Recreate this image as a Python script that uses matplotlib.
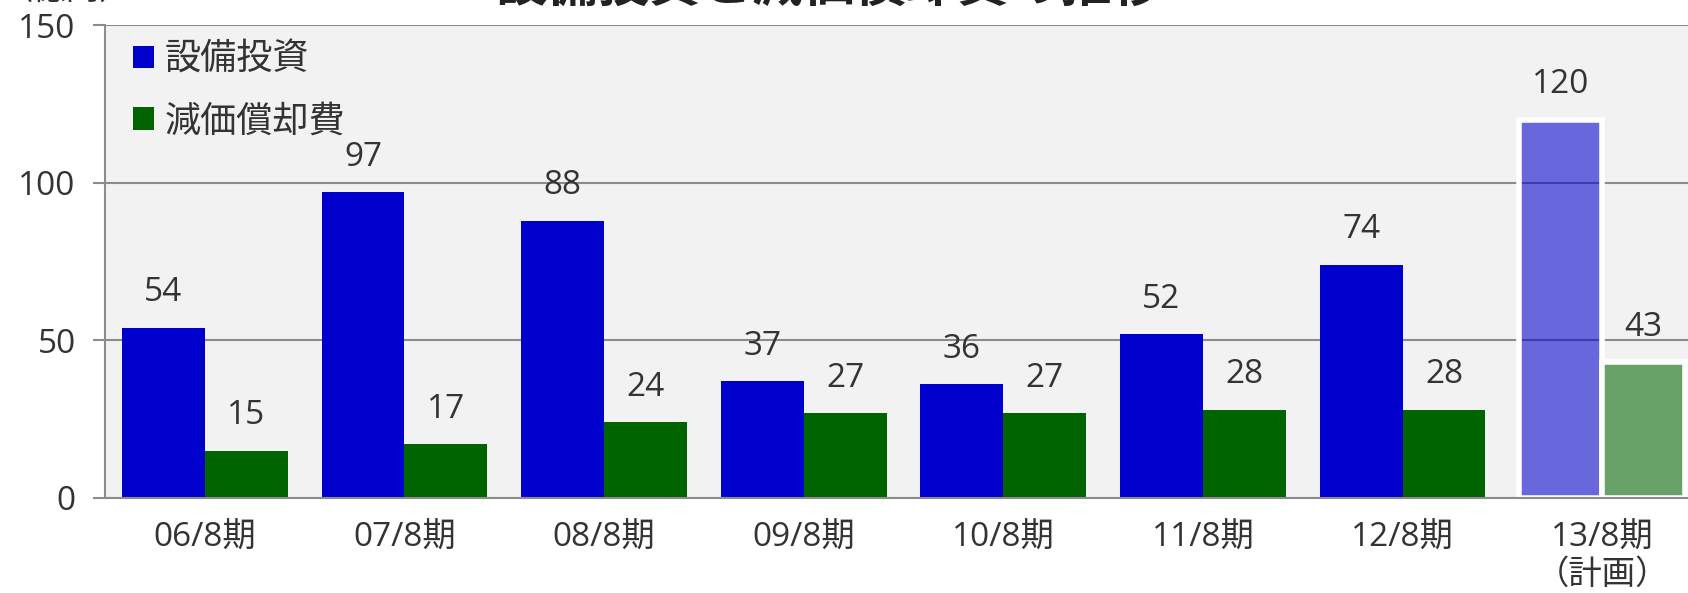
import numpy as np
import matplotlib
matplotlib.use('Agg')
import matplotlib.pyplot as plt

plt.rcParams['font.family'] = ['Open Sans', 'Noto Sans CJK JP', 'DejaVu Sans']

periods = ['06/8期', '07/8期', '08/8期', '09/8期', '10/8期', '11/8期', '12/8期', '13/8期\n（計画）']
capex = [54, 97, 88, 37, 36, 52, 74, 120]
depreciation = [15, 17, 24, 27, 27, 28, 28, 43]
series_names = ['設備投資', '減価償却費']

blue = '#0000CC'
green = '#006400'
text_col = '#333333'
grid_col = '#8C8C8C'

fig = plt.figure(figsize=(16.88, 5.93), dpi=100)
ax = fig.add_axes([105 / 1688, 1 - 498 / 593, 1 - 105 / 1688, (498 - 25) / 593])
ax.set_facecolor('#F2F2F2')
ax.set_axisbelow(True)

x = np.arange(len(periods))
w = 0.415
n_actual = len(periods) - 1

# actual results
ax.bar(x[:n_actual] - w / 2, capex[:n_actual], w, color=blue, label=series_names[0], zorder=2)
ax.bar(x[:n_actual] + w / 2, depreciation[:n_actual], w, color=green, label=series_names[1], zorder=2)
# plan (semi transparent with white border)
ax.bar(x[n_actual:] - w / 2, capex[n_actual:], w, facecolor=(0, 0, 0.8, 0.57),
       edgecolor='white', linewidth=4, zorder=2)
ax.bar(x[n_actual:] + w / 2, depreciation[n_actual:], w, facecolor=(0, 0.392, 0, 0.57),
       edgecolor='white', linewidth=4, zorder=2)

for i in x:
    ax.annotate(str(capex[i]), (i - w / 2, capex[i]), xytext=(0, 25), textcoords='offset points',
                ha='center', va='center', fontsize=24, color=text_col)
    ax.annotate(str(depreciation[i]), (i + w / 2, depreciation[i]), xytext=(0, 25),
                textcoords='offset points', ha='center', va='center', fontsize=24, color=text_col)

ax.set_xlim(-0.5, 7.43)
ax.set_ylim(0, 150)
ax.set_yticks([0, 50, 100, 150])
ax.yaxis.grid(True, color=grid_col, linewidth=1.5)
ax.set_xticks(x)
ax.set_xticklabels(periods, fontsize=24, color=text_col, linespacing=1.15)
ax.tick_params(axis='x', length=0, pad=17)
ax.tick_params(axis='y', length=9, width=1.5, color=grid_col, labelsize=24, labelcolor=text_col, pad=12)

for s in ['top', 'right']:
    ax.spines[s].set_visible(False)
for s in ['left', 'bottom']:
    ax.spines[s].set_color(grid_col)
    ax.spines[s].set_linewidth(1.5)

leg = ax.legend(loc='upper left', bbox_to_anchor=(0.018, 0.962), frameon=False, fontsize=26,
                handlelength=0.58, handleheight=0.58, handletextpad=0.28, labelspacing=0.7,
                borderpad=0, borderaxespad=0)
for t in leg.get_texts():
    t.set_color(text_col)

fig.text(829 / 1688, 1 + 14 / 593, '設備投資と減価償却費の推移', ha='center', va='center',
         fontsize=37, fontweight='bold', color='#222222', family=['Noto Sans CJK JP'])
fig.text(0.0, 1 + 10 / 593, '（億円）', ha='left', va='center', fontsize=24, color=text_col)

fig.savefig('out.png', dpi=100)
